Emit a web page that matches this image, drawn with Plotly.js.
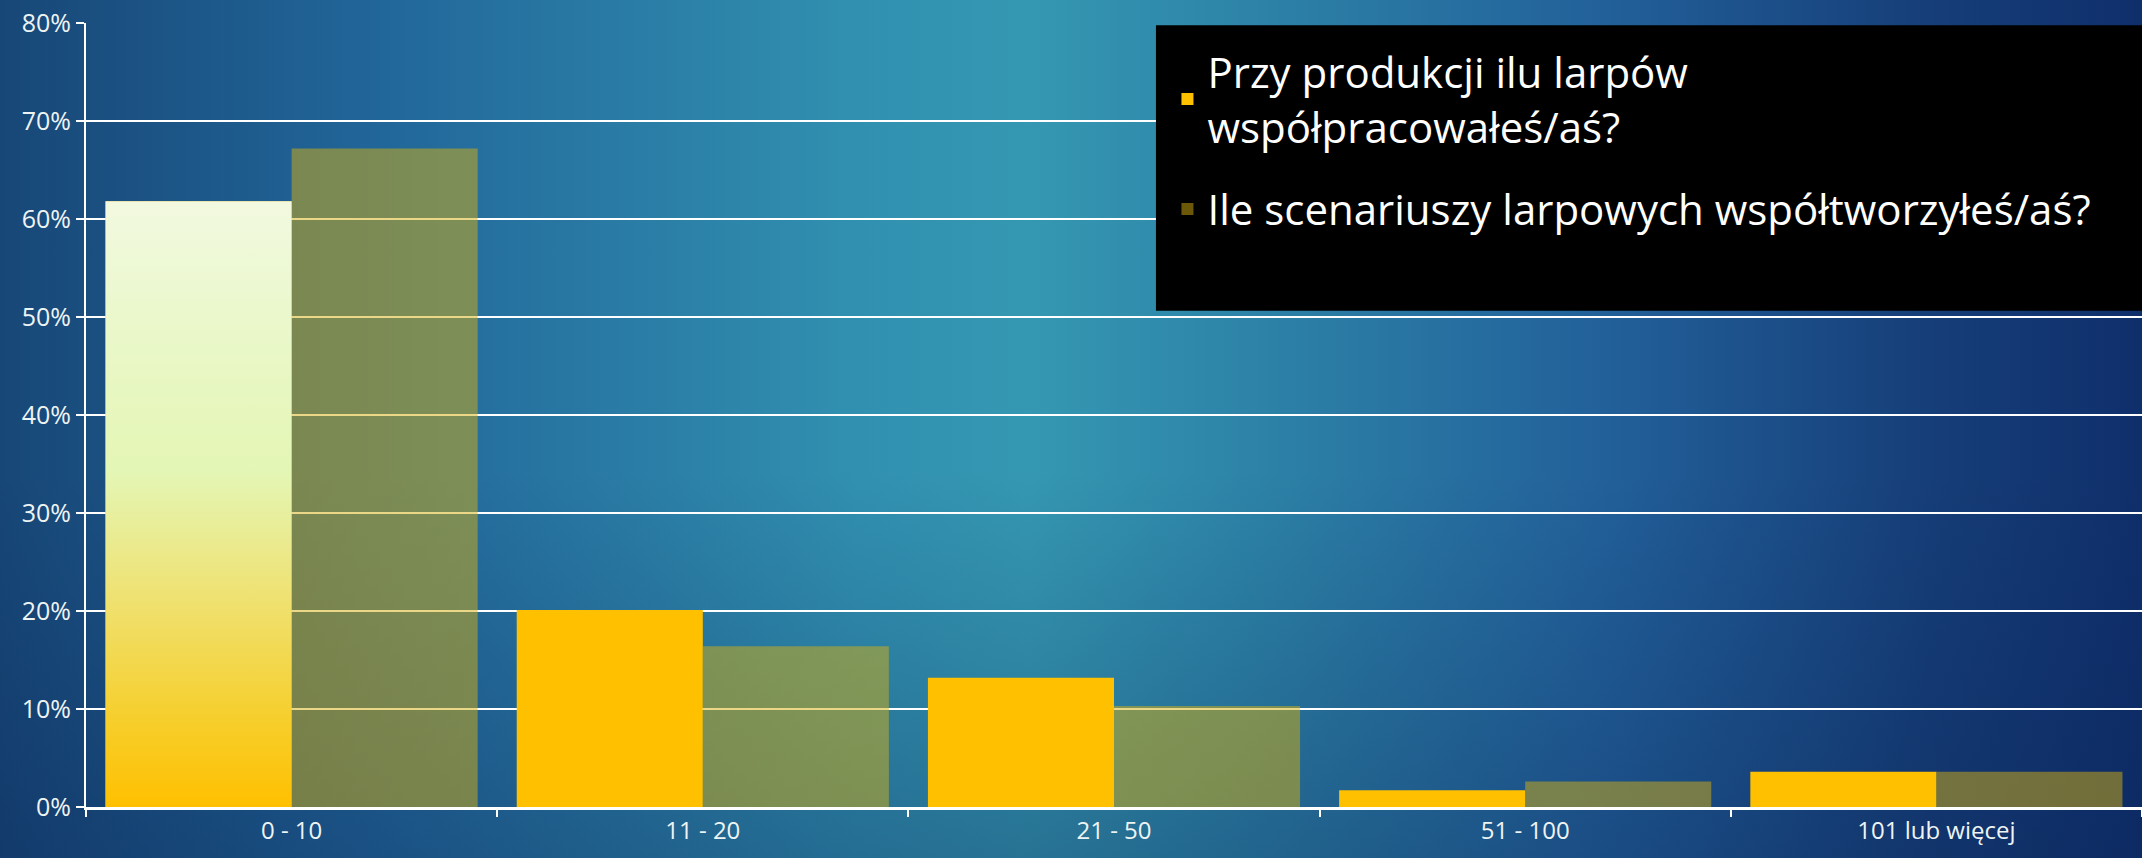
<!DOCTYPE html>
<html>
<head>
<meta charset="utf-8">
<script src="https://cdn.plot.ly/plotly-3.0.1.min.js"></script>
<style>
  html, body { margin: 0; padding: 0; width: 2142px; height: 858px; overflow: hidden; }
  body {
    background:
      linear-gradient(to bottom, rgba(8,30,80,0) 55%, rgba(8,30,80,0.30) 100%),
      linear-gradient(to right, #174777 0%, #22679a 18%, #3190b0 40%, #3598b2 48%, #2d84a8 58%, #22609a 75%, #163e78 90%, #0f2f6b 100%);
  }
  #chart { width: 2142px; height: 858px; }
</style>
</head>
<body>
<div id="chart"></div>
<script>
var categories = ['0 - 10', '11 - 20', '21 - 50', '51 - 100', '101 lub więcej'];
var produkcja = [0.618, 0.201, 0.132, 0.017, 0.036];
var scenariusze = [0.672, 0.164, 0.103, 0.026, 0.036];
var seriesNames = ['Przy produkcji ilu larpów<br>współpracowałeś/aś?', 'Ile scenariuszy larpowych współtworzyłeś/aś?'];
var seriesColors = ['#FFC000', 'rgba(214,176,16,0.5)'];

var barGap = 0.095;
var fontFamily = '"Open Sans", "Noto Sans", sans-serif';

var trace1 = {
  x: categories,
  y: produkcja,
  name: seriesNames[0],
  type: 'bar',
  legendgroup: 'a',
  marker: { color: seriesColors[0] }
};

var trace2 = {
  x: categories,
  y: scenariusze,
  name: seriesNames[1],
  type: 'bar',
  legendgroup: 'b',
  marker: { color: seriesColors[1] }
};

// light highlight on the first bar, drawn over it on a hidden linear axis
var half = (1 - barGap) / 2;
var glow = {
  x: [-half, 0, 0, -half, -half],
  y: [0, 0, produkcja[0], produkcja[0], 0],
  xaxis: 'x2',
  type: 'scatter',
  mode: 'none',
  fill: 'toself',
  fillgradient: {
    type: 'vertical',
    colorscale: [
      [0, '#FFC000'],
      [0.15, '#F6CF2E'],
      [0.35, '#EFE273'],
      [0.55, '#E4F6B4'],
      [0.8, '#EAF8CB'],
      [1, '#F2F9E0']
    ]
  },
  showlegend: false,
  hoverinfo: 'skip'
};

var layout = {
  width: 2142,
  height: 858,
  margin: { l: 86, r: 0, t: 23, b: 51 },
  paper_bgcolor: 'rgba(0,0,0,0)',
  plot_bgcolor: 'rgba(0,0,0,0)',
  font: { family: fontFamily, color: '#EEF4F4', size: 25 },
  barmode: 'group',
  bargap: barGap,
  bargroupgap: 0,
  xaxis: {
    type: 'category',
    tickson: 'boundaries',
    ticks: 'outside',
    ticklen: 7,
    tickwidth: 2,
    tickcolor: '#FFFFFF',
    showline: true,
    linecolor: '#FFFFFF',
    linewidth: 3,
    showgrid: false,
    tickfont: { size: 24 }
  },
  xaxis2: {
    overlaying: 'x',
    range: [-0.5, 4.5],
    visible: false
  },
  yaxis: {
    range: [0, 0.8],
    dtick: 0.1,
    tickformat: '.0%',
    ticks: 'outside',
    ticklen: 8,
    tickwidth: 2,
    tickcolor: '#FFFFFF',
    showline: true,
    linecolor: '#FFFFFF',
    linewidth: 2,
    gridcolor: '#FFFFFF',
    gridwidth: 2,
    zeroline: false,
    tickfont: { size: 25 }
  },
  shapes: [{
    type: 'rect',
    xref: 'paper', yref: 'paper',
    x0: 0.5204, x1: 1.0, y0: 0.633, y1: 0.997,
    fillcolor: '#000000',
    line: { width: 0 },
    layer: 'above'
  }],
  legend: {
    x: 0.526,
    y: 0.981,
    xanchor: 'left',
    yanchor: 'top',
    bgcolor: 'rgba(0,0,0,0)',
    font: { family: fontFamily, size: 42, color: '#FFFFFF' },
    tracegroupgap: 25,
    traceorder: 'grouped'
  },
  showlegend: true
};

Plotly.newPlot('chart', [trace1, trace2, glow], layout, { displayModeBar: false });
</script>
</body>
</html>
